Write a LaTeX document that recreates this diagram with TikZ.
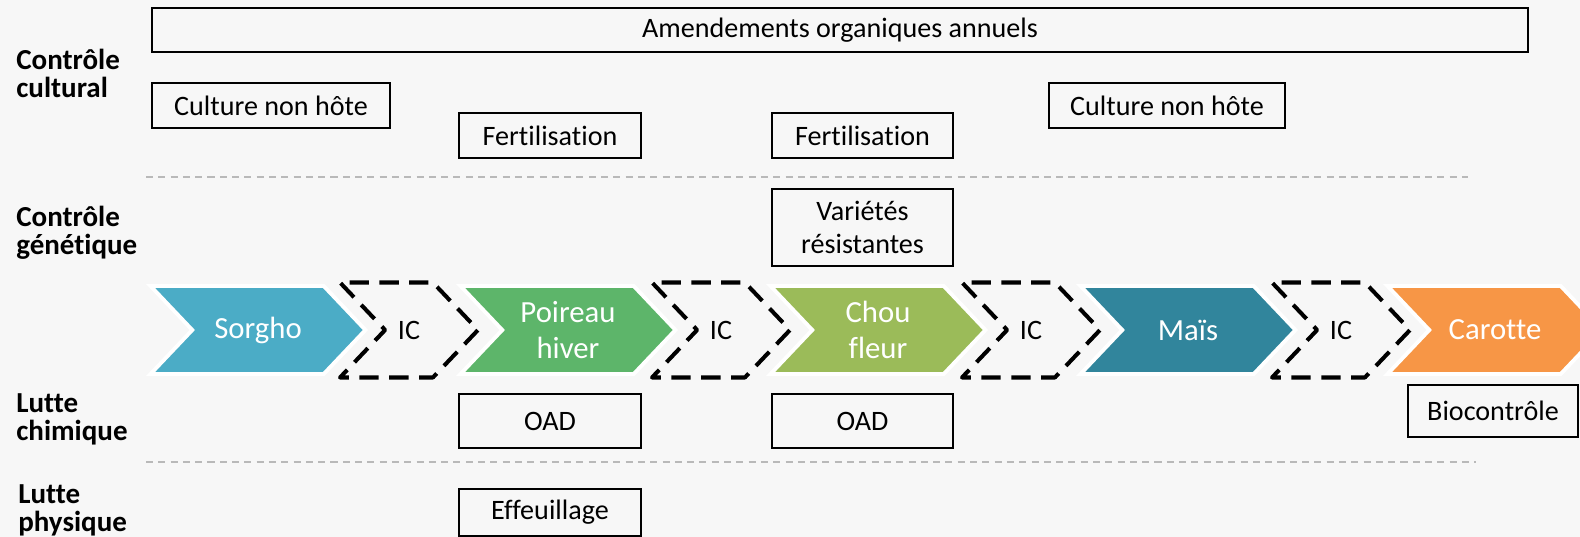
\documentclass[tikz,border=0pt]{standalone}
\usepackage{fontspec}
\setmainfont{Carlito}[Ligatures=NoCommon]
\usetikzlibrary{shapes.symbols,positioning}
\definecolor{fond}{HTML}{F7F7F7}
\definecolor{sorgho}{HTML}{4BACC6}
\definecolor{poireau}{HTML}{5DB56A}
\definecolor{chou}{HTML}{9BBB59}
\definecolor{mais}{HTML}{31859C}
\definecolor{carotte}{HTML}{F79646}

\begin{document}
\begin{tikzpicture}[x=0.02cm,y=-0.02cm,
    levier/.style={draw,line width=1pt,inner sep=0pt,align=center,
      font=\fontsize{16}{19}\selectfont},
    rubrique/.style={anchor=west,align=left,inner sep=0pt,
      font=\bfseries\fontsize{16.5}{16}\selectfont},
    culture/.style={signal,signal to=east,signal from=west,
      signal pointer angle=93,draw=white,line width=2.2pt,fill=#1,
      minimum width=4.3cm,minimum height=1.76cm,inner sep=0pt,
      text=white,align=center,font=\fontsize{17.5}{20}\selectfont},
    interculture/.style={signal,signal to=east,signal from=west,
      signal pointer angle=93,draw=black,line width=2.3pt,
      dash pattern=on 11pt off 6pt,line join=round,fill=fond,
      minimum width=2.76cm,minimum height=1.9cm,inner sep=0pt,
      font=\fontsize{16}{19}\selectfont},
    separateur/.style={gray!55,line width=1pt,dash pattern=on 4pt off 3pt}]

    % Fond
    \fill[fond] (0,0) rectangle (1580,537);
    \useasboundingbox (0,0) rectangle (1580,537);

    % Rubriques
    \node[rubrique] (cultural) at (16,73) {Contrôle\\cultural};
    \node[rubrique] (genetique) at (16,233) {Contrôle\\génétique};
    \node[rubrique] (chimique) at (16,419) {Lutte\\chimique};
    \node[rubrique] (physique) at (18,510) {Lutte\\physique};

    % Separateurs
    \coordinate (sepA1) at (146,177);
    \coordinate (sepA2) at (1468,177);
    \coordinate (sepB1) at (146,462);
    \coordinate (sepB2) at (1476,462);
    \draw[separateur] (sepA1) -- (sepA2);
    \draw[separateur] (sepB1) -- (sepB2);

    % Controle cultural
    \node[levier,minimum width=27.52cm,minimum height=0.88cm] (amend) at (840,30) {Amendements organiques annuels};
    \node[levier,minimum width=4.76cm,minimum height=0.9cm] (nonhote1) at (271,105.5) {Culture non hôte};
    \node[levier,minimum width=4.72cm,minimum height=0.9cm] (nonhote2) at (1167,105.5) {Culture non hôte};
    \node[levier,minimum width=3.64cm,minimum height=0.9cm] (fert1) at (550,135.5) {Fertilisation};
    \node[levier,minimum width=3.62cm,minimum height=0.9cm] (fert2) at (862.5,135.5) {Fertilisation};

    % Controle genetique
    \node[levier,minimum width=3.62cm,minimum height=1.54cm] (varietes) at (862.5,227.5) {Variétés\\résistantes};

    % Rotation
    \node[interculture] (ic1) at (409,330) {IC};
    \node[interculture] (ic2) at (721,330) {IC};
    \node[interculture] (ic3) at (1031,330) {IC};
    \node[interculture] (ic4) at (1341,330) {IC};
    \node[culture=sorgho] (sorgho) at (258,330) {Sorgho};
    \node[culture=poireau] (poireau) at (568,330) {Poireau\\hiver};
    \node[culture=chou] (chou) at (878,330) {Chou\\fleur};
    \node[culture=mais] (mais) at (1188,330) {Maïs};
    \node[culture=carotte] (carotte) at (1495,330) {Carotte};

    % Lutte chimique
    \node[levier,minimum width=3.64cm,minimum height=1.08cm] (oad1) at (550,421) {OAD};
    \node[levier,minimum width=3.62cm,minimum height=1.08cm] (oad2) at (862.5,421) {OAD};
    \node[levier,minimum width=3.4cm,minimum height=1.04cm] (bio) at (1493,411) {Biocontrôle};

    % Lutte physique
    \node[levier,minimum width=3.64cm,minimum height=0.94cm] (effeuil) at (550,512.5) {Effeuillage};
\end{tikzpicture}
\end{document}
